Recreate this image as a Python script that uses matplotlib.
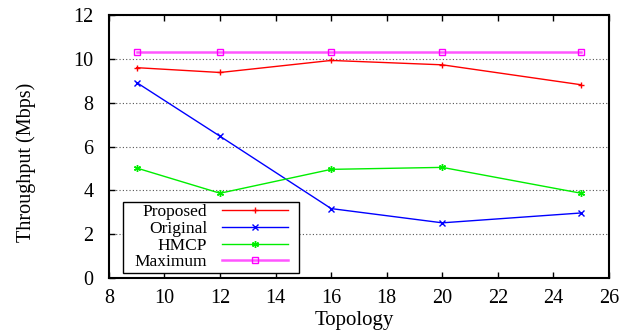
import matplotlib
matplotlib.use("Agg")
import matplotlib.pyplot as plt
from matplotlib.patches import Rectangle

topology = [9, 12, 16, 20, 25]
proposed = [9.6, 9.38, 9.93, 9.73, 8.82]
original = [8.92, 6.47, 3.17, 2.52, 2.97]
hmcp = [5.02, 3.87, 4.96, 5.05, 3.87]
maximum = [10.32, 10.32, 10.32, 10.32, 10.32]

xticks = [8, 10, 12, 14, 16, 18, 20, 22, 24, 26]
yticks = [0, 2, 4, 6, 8, 10, 12]

plt.rcParams['font.family'] = ['Liberation Serif', 'DejaVu Serif']

fig = plt.figure(figsize=(6.37, 3.35), dpi=100)
ax = fig.add_axes([0.171, 0.170, 0.785, 0.785])

ax.plot(topology, proposed, color='#ff0000', lw=1.0, marker='+', ms=5, mew=1.0, label='Proposed')
ax.plot(topology, original, color='#0000ff', lw=1.0, marker='x', ms=4.5, mew=1.0, label='Original')
ax.plot(topology, hmcp, color='#00ee00', lw=1.0, marker=(6, 2, 0), ms=5, mew=1.0, label='HMCP')
ax.plot(topology, maximum, color='#ff55ff', lw=1.8, marker='s', ms=5, mew=1.0,
        mfc='none', mec='#ff00ff', label='Maximum')

ax.set_xlim(8, 26)
ax.set_ylim(0, 12)
ax.set_xticks(xticks)
ax.set_yticks(yticks)
ax.tick_params(axis='both', direction='in', labelsize=14.5, length=4, width=1.0)
ax.tick_params(axis='x', top=True, pad=8)
ax.tick_params(axis='y', pad=11)
ax.grid(axis='y', linestyle=(0, (1, 2)), color='#555555', lw=0.8)
for s in ax.spines.values():
    s.set_linewidth(1.5)

ax.set_xlabel('Topology', fontsize=15)
ax.set_ylabel('Throughput (Mbps)', fontsize=14.5)
ax.xaxis.set_label_coords(0.49, -0.125)
ax.yaxis.set_label_coords(-0.146, 0.44)

leg = ax.legend(loc='lower left', bbox_to_anchor=(0.046, 0.019), markerfirst=False,
                fontsize=12.5, frameon=False,
                handlelength=3.8, handletextpad=0.85, labelspacing=0.03,
                borderpad=0.15, borderaxespad=0)
leg.set_zorder(5)

# frame around the legend, wider horizontally than matplotlib's symmetric padding
fig.canvas.draw()
bb = leg.get_window_extent().transformed(fig.transFigure.inverted())
padx = 9 / fig.bbox.width
frame = Rectangle((bb.x0 - padx, bb.y0), bb.width + 2 * padx, bb.height,
                  transform=fig.transFigure, facecolor='white', edgecolor='black',
                  lw=1.0, zorder=4)
ax.add_artist(frame)

fig.savefig('out.png', dpi=100)
